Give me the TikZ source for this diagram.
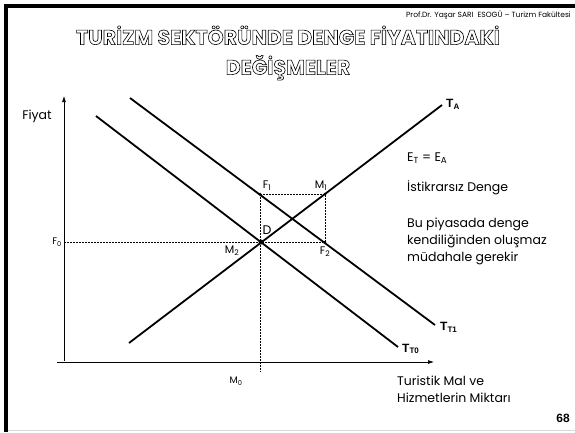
\documentclass[tikz,border=0pt]{standalone}
\usepackage{fontspec}
\setmainfont{Poppins}
\newfontfamily\arialf{Liberation Sans}
\usetikzlibrary{arrows.meta}
\newcommand{\hollow}[1]{\special{pdf:literal direct 1 Tr 0.6 w 0 0 0 RG}#1\special{pdf:literal direct 0 Tr}}
\begin{document}
\begin{tikzpicture}[x=1pt,y=-1pt,
  curve/.style={line width=1.8pt},
  axis/.style={line width=0.7pt,-{Latex[length=6pt,width=4pt]}},
  guide/.style={line width=0.7pt,dash pattern=on 2pt off 1pt},
  lbl/.style={font=\fontsize{11}{13}\selectfont,inner sep=0pt},
  tlbl/.style={font=\arialf\bfseries\fontsize{12}{14}\selectfont,inner sep=0pt,anchor=west},
  txt/.style={font=\fontsize{12.5}{17}\selectfont,inner sep=0pt,anchor=west,align=left},
  pt/.style={circle,fill=black,inner sep=0pt,minimum size=3pt}]
\useasboundingbox (0,0) rectangle (575,432);
\fill[white] (0,0) rectangle (575,432);
% frame
\fill[black] (4,4) rectangle (8,432);
\fill[black] (4,4) rectangle (575,7.5);
\draw[black!15,line width=1pt] (8,430.5) -- (575,430.5);
% header
\node[anchor=east,inner sep=0pt,font=\fontsize{7.5}{9}\selectfont] (hdr) at (571,15) {Prof.Dr. Yaşar SARI\ \ ESOGÜ – Turizm Fakültesi};
% title
\node[inner sep=0pt,align=center,font=\bfseries\fontsize{20.5}{30}\selectfont] (title) at (288,53)
  {\hollow{TURİZM SEKTÖRÜNDE DENGE FİYATINDAKİ}\\\hollow{DEĞİŞMELER}};
% axes
\coordinate (yb) at (64,361);
\coordinate (yt) at (64,96);
\coordinate (xl) at (57,362);
\coordinate (xr) at (434,362);
\draw[axis] (yb) -- (yt);
\draw[axis] (xl) -- (xr);
% curves
\coordinate (ta1) at (129,343);
\coordinate (ta2) at (442,105);
\coordinate (t11) at (130,98);
\coordinate (t12) at (435,325);
\coordinate (t01) at (96,116);
\coordinate (t02) at (398,347);
\draw[curve] (ta1) -- (ta2);
\draw[curve] (t11) -- (t12);
\draw[curve] (t01) -- (t02);
% points
\coordinate (F0) at (64,242);
\coordinate (F1) at (260,194);
\coordinate (M1) at (325,194);
\coordinate (F2) at (325,242);
\coordinate (D) at (261,242);
\coordinate (M0) at (260,372);
\draw[guide] (F0) -- (F2);
\draw[guide] (F1) -- (M1) -- (F2);
\draw[guide] (F1) -- (M0);
\node[pt] (pF1) at (F1) {};
\node[pt] (pM1) at (M1) {};
\node[pt] (pF2) at (F2) {};
\node[pt,minimum size=5pt] (pD) at (D) {};
% labels
\node[lbl,font=\fontsize{12.5}{14}\selectfont] (fiyat) at (37,116) {Fiyat};
\node[lbl,anchor=east,font=\fontsize{9.5}{11}\selectfont] (lF0) at (62,242) {F\textsubscript{0}};
\node[lbl,font=\fontsize{9.5}{11}\selectfont] (lM0) at (236,381) {M\textsubscript{0}};
\node[lbl] (lF1) at (267,186) {F\textsubscript{1}};
\node[lbl] (lM1) at (321,186) {M\textsubscript{1}};
\node[lbl,font=\fontsize{12.5}{14}\selectfont] (lD) at (267,230) {D};
\node[lbl] (lM2) at (232,251) {M\textsubscript{2}};
\node[lbl] (lF2) at (325,252) {F\textsubscript{2}};
\node[tlbl] (lTA) at (446,104) {T\textsubscript{A}};
\node[tlbl] (lTT1) at (440,327) {T\textsubscript{T1}};
\node[tlbl] (lTT0) at (402,349) {T\textsubscript{T0}};
\node[txt] (eq) at (407,158) {E\textsubscript{T} = E\textsubscript{A}};
\node[txt] (ist) at (407,188) {İstikrarsız Denge};
\node[txt] (bu) at (407,241) {Bu piyasada denge\\kendiliğinden oluşmaz\\müdahale gerekir};
\node[txt] (xlab) at (397,389) {Turistik Mal ve\\Hizmetlerin Miktarı};
\node[anchor=east,inner sep=0pt,font=\arialf\bfseries\fontsize{12}{14}\selectfont] (pg) at (570,418) {68};
\end{tikzpicture}
\end{document}
